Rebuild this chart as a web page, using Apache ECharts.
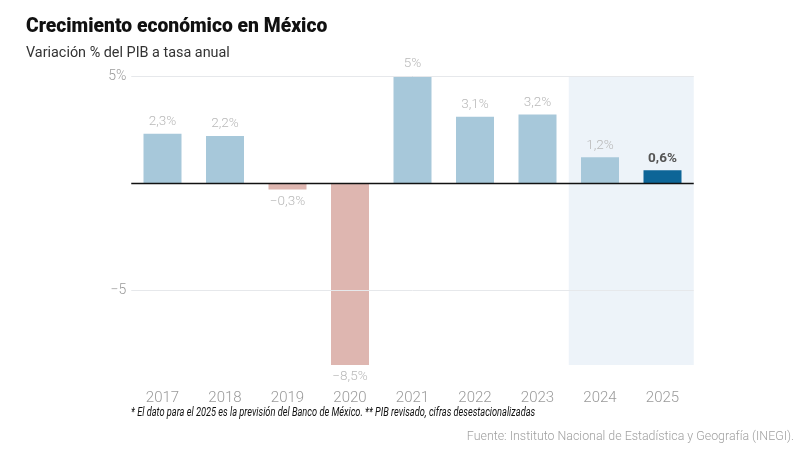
<!DOCTYPE html>
<html><head><meta charset="utf-8">
<script src="https://cdn.jsdelivr.net/npm/echarts@6/dist/echarts.min.js"></script>
<style>html,body{margin:0;padding:0;background:#fff}#c{width:800px;height:449px}</style>
</head><body><div id="c"></div>
<script>
const years = ['2017','2018','2019','2020','2021','2022','2023','2024','2025'];
const growth = [2.3, 2.2, -0.3, -8.5, 5, 3.1, 3.2, 1.2, 0.6];
const valueLabels = ['2,3%','2,2%','−0,3%','−8,5%','5%','3,1%','3,2%','1,2%','0,6%'];
const yTicks = [5, -5];
const yTickLabels = ['5%', '−5'];
const forecastYears = ['2024', '2025'];

const chart = echarts.init(document.getElementById('c'), null, {renderer: 'canvas'});
const FONT = 'Roboto, "Liberation Sans", sans-serif';

const barData = growth.map((v, i) => {
  let color = v < 0 ? '#deb6b0' : '#a7c8da';
  const isLast = i === growth.length - 1;
  if (isLast) color = '#0d6597';
  return {
    value: v,
    itemStyle: {color},
    label: {
      show: true,
      position: v < 0 ? 'bottom' : 'top',
      distance: 5,
      formatter: valueLabels[i],
      color: isLast ? '#555' : '#b9b9b9',
      fontWeight: isLast ? 'bold' : 300,
      fontSize: 13.5,
      fontFamily: FONT
    }
  };
});

chart.setOption({
  backgroundColor: '#fff',
  animation: false,
  title: [{
    text: 'Crecimiento económico en México',
    left: 21, top: 13,
    textStyle: {fontFamily: 'Roboto, sans-serif', fontWeight: 900, fontSize: 19.3, color: '#111'}
  }, {
    text: 'Variación % del PIB a tasa anual',
    left: 21, top: 41,
    textStyle: {fontFamily: FONT, fontWeight: 'normal', fontSize: 14.4, color: '#333'}
  }],
  grid: {left: 131.25, right: 106.25, top: 76, bottom: 84, containLabel: false},
  xAxis: {
    type: 'category',
    data: years,
    axisLine: {show: false},
    axisTick: {show: false},
    axisLabel: {color: '#9a9a9a', fontSize: 15, fontWeight: 300, fontFamily: FONT, margin: 26}
  },
  yAxis: {
    type: 'value',
    min: -8.5, max: 5,
    splitLine: {show: false},
    axisLine: {show: false},
    axisTick: {show: false},
    axisLabel: {
      customValues: yTicks,
      formatter: v => yTickLabels[yTicks.indexOf(v)] ?? '',
      color: '#9a9a9a', fontSize: 14, fontWeight: 300, fontFamily: FONT, margin: 5
    }
  },
  series: [{
    type: 'bar',
    data: barData,
    barWidth: 38,
    markArea: {
      silent: true,
      itemStyle: {color: '#edf3f9'},
      data: [[{xAxis: forecastYears[0], yAxis: 5}, {xAxis: forecastYears[1], yAxis: -8.5}]]
    },
    markLine: {
      silent: true,
      symbol: 'none',
      label: {show: false},
      data: [
        {yAxis: yTicks[0], lineStyle: {color: '#e6e8eb', width: 1, type: 'solid'}},
        {yAxis: yTicks[1], lineStyle: {color: '#e6e8eb', width: 1, type: 'solid'}},
        {yAxis: 0, lineStyle: {color: '#111', width: 1.3, type: 'solid'}}
      ]
    }
  }],
  graphic: [{
    type: 'text', left: 131, top: 407,
    scaleX: 0.77,
    style: {text: '* El dato para el 2025 es la previsión del Banco de México. ** PIB revisado, cifras desestacionalizadas',
      fontFamily: FONT, fontStyle: 'italic', fontSize: 12, fill: '#111'}
  }, {
    type: 'text', right: 6, top: 431,
    style: {text: 'Fuente: Instituto Nacional de Estadística y Geografía (INEGI).',
      fontFamily: FONT, fontSize: 12.4, fontWeight: 300, fill: '#a0a0a0'}
  }]
});
</script></body></html>
